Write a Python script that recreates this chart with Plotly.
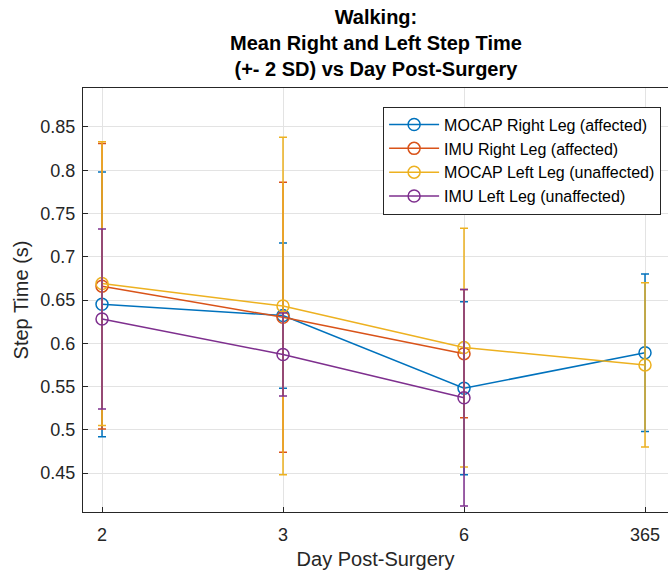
import plotly.graph_objects as go

# Day post-surgery categories
days = ["2", "3", "6", "365"]

# Mean step time (s) per series; None where no measurement exists
mocap_right = [0.645, 0.632, 0.548, 0.589]
imu_right = [0.666, 0.630, 0.588, None]
mocap_left = [0.669, 0.643, 0.595, 0.575]
imu_left = [0.628, 0.587, 0.537, None]

# 2 SD half-widths
mocap_right_sd2 = [0.153, 0.084, 0.100, 0.091]
imu_right_sd2 = [0.165, 0.156, 0.074, None]
mocap_left_sd2 = [0.164, 0.195, 0.138, 0.095]
imu_left_sd2 = [0.104, 0.048, 0.125, None]

names = [
    "MOCAP Right Leg (affected)",
    "IMU Right Leg (affected)",
    "MOCAP Left Leg (unaffected)",
    "IMU Left Leg (unaffected)",
]
colors = ["#0072BD", "#D95319", "#EDB120", "#7E2F8E"]
series = [
    (mocap_right, mocap_right_sd2),
    (imu_right, imu_right_sd2),
    (mocap_left, mocap_left_sd2),
    (imu_left, imu_left_sd2),
]

fig = go.Figure()
for name, color, (vals, errs) in zip(names, colors, series):
    x = [d for d, v in zip(days, vals) if v is not None]
    y = [v for v in vals if v is not None]
    e = [s for s in errs if s is not None]
    fig.add_trace(go.Scatter(
        x=x, y=y, name=name, mode="lines+markers",
        line=dict(color=color, width=1.5),
        marker=dict(symbol="circle-open", size=12, color=color,
                    line=dict(width=1.5, color=color)),
        error_y=dict(type="data", array=e, visible=True,
                     color=color, thickness=1.5, width=4),
    ))

font_family = "Liberation Sans, Arial, sans-serif"
tick_color = "#262626"
yticks = [0.45, 0.5, 0.55, 0.6, 0.65, 0.7, 0.75, 0.8, 0.85]

# Three-line bold title, placed above the plot area
fig.add_annotation(
    text="<b>Walking:<br>Mean Right and Left Step Time<br>(+- 2 SD) vs Day Post-Surgery</b>",
    xref="paper", yref="paper", x=0.5, y=1.198,
    xanchor="center", yanchor="top", showarrow=False, align="center",
    font=dict(size=20, color="black", family=font_family),
)

fig.update_layout(
    width=668, height=573,
    margin=dict(l=83, r=0, t=88, b=61),
    paper_bgcolor="white", plot_bgcolor="white",
    font=dict(family=font_family, color=tick_color, size=18),
    showlegend=True,
    legend=dict(
        x=0.513, y=0.956, xanchor="left", yanchor="top",
        bgcolor="white", bordercolor="#262626", borderwidth=1,
        font=dict(size=16, color="black", family=font_family),
        itemwidth=50, tracegroupgap=0,
    ),
    xaxis=dict(
        type="category", categoryorder="array", categoryarray=days,
        range=[-0.105, 3.127],
        showgrid=True, gridcolor="#e3e3e3", gridwidth=1,
        showline=True, linecolor=tick_color, linewidth=1, mirror=True,
        ticks="inside", ticklen=5, tickcolor=tick_color,
        tickfont=dict(size=18, color=tick_color), ticklabelstandoff=6,
        title=dict(text="Day Post-Surgery", font=dict(size=20, color=tick_color), standoff=8),
        zeroline=False,
    ),
    yaxis=dict(
        range=[0.405, 0.895],
        tickvals=yticks, ticktext=[f"{v:g}" for v in yticks],
        showgrid=True, gridcolor="#e3e3e3", gridwidth=1,
        showline=True, linecolor=tick_color, linewidth=1, mirror=True,
        ticks="inside", ticklen=5, tickcolor=tick_color,
        tickfont=dict(size=18, color=tick_color), ticklabelstandoff=3,
        title=dict(text="Step Time (s)", font=dict(size=20, color=tick_color), standoff=6),
        zeroline=False,
    ),
)

fig.write_html("out.html")
